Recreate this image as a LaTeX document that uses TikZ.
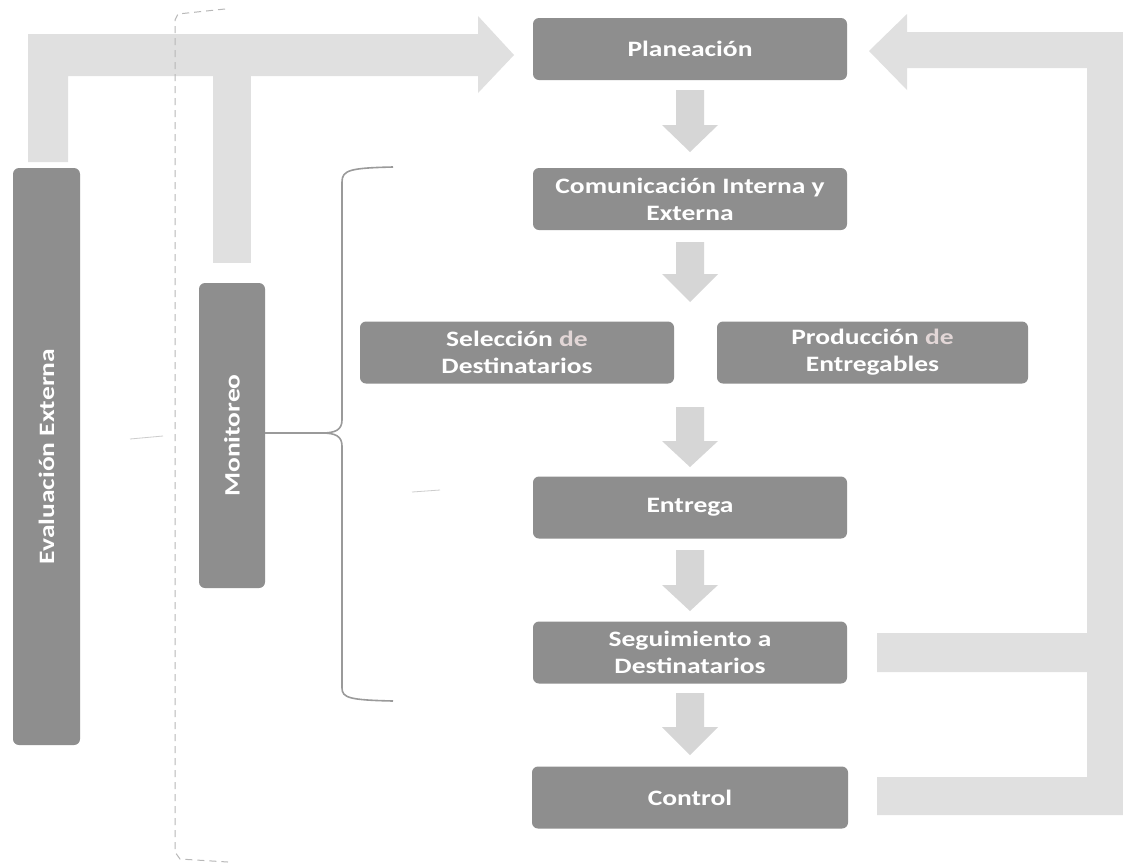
\documentclass[tikz,border=0pt]{standalone}
\usepackage{fontspec}
\setmainfont{Carlito}
\newfontfamily\boxfont[FakeStretch=1.25]{Carlito}
\usetikzlibrary{calc}
\definecolor{boxgray}{HTML}{8E8E8E}
\definecolor{arrlight}{HTML}{E0E0E0}
\definecolor{arrsmall}{HTML}{D6D6D6}
\definecolor{bracegray}{HTML}{9A9A9A}
\definecolor{dashgray}{HTML}{B8B8B8}
\definecolor{delight}{HTML}{E2D6D6}
\newcommand{\downblock}[4]{%
  \fill[arrsmall] (#1-14,#2) -- (#1+14,#2) -- (#1+14,#3) -- (#1+28,#3) -- (#1,#4) -- (#1-28,#3) -- (#1-14,#3) -- cycle;}
\begin{document}
\begin{tikzpicture}[x=1pt,y=-1pt,
  procbox/.style={fill=boxgray, rounded corners=6pt, text=white, font=\boxfont\bfseries\fontsize{22}{27}\selectfont,
    align=center, inner sep=0pt, minimum width=314pt, minimum height=62pt},
  vertbox/.style={procbox, rotate=90},
  bracepath/.style={draw=bracegray, line width=1.6pt},
  dashline/.style={draw=dashgray, line width=1pt, dash pattern=on 7pt off 5pt}
]
\useasboundingbox (0,0) rectangle (1123,863);
\fill[white] (0,0) rectangle (1123,863);

% big light arrows
\fill[arrlight] (28,162) -- (28,34) -- (478,34) -- (478,16) -- (514,55) -- (478,93) -- (478,76) -- (68,76) -- (68,162) -- cycle;
\fill[arrlight] (213,70) rectangle (251,263);
\fill[arrlight] (1123,32) -- (907,32) -- (907,14) -- (869,51) -- (907,90) -- (907,68) -- (1087,68) -- (1087,633)
  -- (877,633) -- (877,672) -- (1087,672) -- (1087,777) -- (877,777) -- (877,815) -- (1123,815) -- cycle;

% dashed boundary
\draw[dashline] (225,9) -- (178,14) -- (175,20) -- (175,852) -- (180,859) -- (228,862);
\draw[dashgray!70, line width=0.8pt] (130,439) -- (163,436);
\draw[dashgray!70, line width=0.8pt] (412,492) -- (440,490);

% process boxes
\node[procbox] (plan) at (690,49) {Planeación};
\node[procbox] (com) at (690,199) {Comunicación Interna y\\Externa};
\node[procbox] (sel) at (517,352.5) {Selección \textcolor{delight}{de}\\Destinatarios};
\node[procbox, minimum width=311pt] (prod) at (872.5,352.5) {Producción \textcolor{delight}{de}\\Entregables};
\node[procbox] (ent) at (690,507.5) {Entrega};
\node[procbox] (seg) at (690,652.5) {Seguimiento a\\Destinatarios};
\node[procbox, minimum width=316pt] (ctrl) at (690,797.5) {Control};
\node[vertbox, minimum width=577pt, minimum height=67pt] (eval) at (46.5,456.5) {Evaluación Externa};
\node[vertbox, minimum width=305pt, minimum height=66pt] (mon) at (232,435.5) {Monitoreo};

% small down arrows
\downblock{690}{90}{125}{152}
\downblock{690}{242}{274}{302}
\downblock{690}{407}{441}{467}
\downblock{690}{550}{585}{611}
\downblock{690}{693}{727}{755}

% brace
\draw[bracepath] (393,167) .. controls (350,168) and (342,170) .. (342,182) -- (342,420)
  .. controls (342,430) and (335,433) .. (322,433) -- (mon.south |- 0,433);
\draw[bracepath] (322,433) .. controls (335,433) and (342,436) .. (342,446) -- (342,688)
  .. controls (342,698) and (350,700) .. (393,701);
\end{tikzpicture}
\end{document}
